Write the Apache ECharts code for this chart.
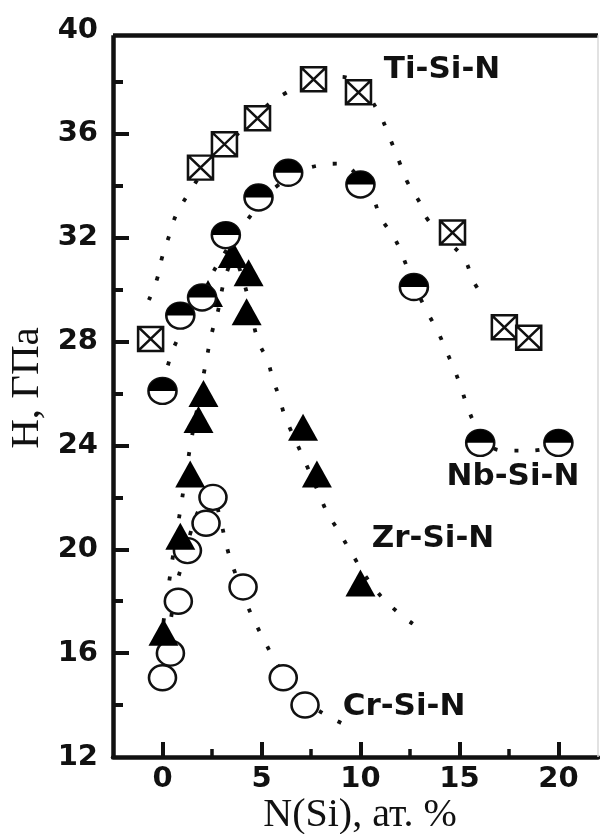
<!DOCTYPE html>
<html>
<head>
<meta charset="utf-8">
<script src="https://cdn.jsdelivr.net/npm/echarts@6/dist/echarts.min.js"></script>
<style>
  html, body { margin: 0; padding: 0; background: #fff; }
  #chart { width: 600px; height: 834px; }
</style>
</head>
<body>
<div id="chart"></div>
<script>
// Hardness H (GPa) versus silicon content N(Si) (at. %) for four nitride systems

// measured points, [N(Si), H]
const tiSiN = [[-0.6, 28.1], [1.92, 34.7], [3.13, 35.6], [4.8, 36.6], [7.63, 38.1], [9.9, 37.6], [14.65, 32.2], [17.27, 28.55], [18.5, 28.15]];
const nbSiN = [[0, 26.1], [0.9, 29.0], [2.0, 29.7], [3.2, 32.1], [4.85, 33.55], [6.35, 34.5], [10.0, 34.05], [12.7, 30.1], [16.05, 24.1], [20.0, 24.1]];
const zrSiN = [[0.05, 16.8], [0.9, 20.5], [1.4, 22.9], [1.82, 25.0], [2.07, 26.0], [2.3, 29.85], [3.55, 31.35], [4.35, 30.65], [4.25, 29.15], [7.1, 24.7], [7.8, 22.9], [10.0, 18.7]];
const crSiN = [[0, 15.05], [0.4, 16.0], [0.8, 18.0], [1.26, 19.95], [2.2, 21.0], [2.55, 22.0], [4.07, 18.55], [6.1, 15.05], [7.2, 14.0]];

// guide-to-the-eye trend curves
const tiTrend = [[-0.69, 29.6], [-0.3, 30.35], [0.0, 31.3], [0.35, 32.1], [0.7, 32.9], [1.28, 33.65], [2.4, 34.9], [3.8, 36.0], [5.0, 36.9], [6.06, 37.5], [7.5, 38.0], [9.0, 38.2], [10.2, 37.6], [11.0, 36.7], [11.4, 36.0], [12.0, 34.85], [12.4, 34.1], [13.0, 33.35], [13.4, 32.7], [14.4, 31.9], [15.3, 31.1], [15.65, 30.4], [16.1, 29.85]];
const nbTrend = [[0.0, 26.3], [0.4, 27.4], [0.8, 28.15], [1.6, 29.3], [2.5, 30.6], [3.3, 31.6], [4.1, 32.5], [5.8, 34.0], [8.0, 34.8], [8.85, 34.85], [10.6, 33.5], [11.0, 32.8], [11.7, 32.0], [12.1, 31.35], [12.7, 30.2], [13.4, 29.1], [13.9, 28.4], [14.3, 27.7], [14.7, 27.0], [15.05, 26.3], [15.4, 25.5], [15.8, 24.8], [16.5, 24.0], [17.5, 23.8], [18.6, 23.8], [19.5, 23.9]];
const zrTrend = [[0.05, 17.2], [0.5, 19.6], [0.96, 21.8], [1.41, 24.0], [1.8, 25.6], [2.12, 26.9], [2.5, 28.35], [2.78, 29.1], [3.18, 30.5], [3.6, 31.1], [4.1, 30.3], [4.5, 29.0], [4.85, 28.0], [5.3, 27.27], [5.6, 26.5], [5.9, 25.85], [6.2, 25.1], [7.07, 23.6], [7.9, 22.15], [8.33, 21.4], [8.9, 20.7], [9.44, 20.0], [10.5, 18.7], [11.6, 17.77], [12.7, 17.1]];
const crTrend = [[0.1, 15.8], [0.4, 17.2], [0.7, 18.6], [0.94, 19.3], [1.4, 20.6], [1.9, 21.6], [2.5, 22.1], [2.9, 21.2], [3.27, 20.03], [3.57, 19.3], [4.07, 18.3], [4.28, 17.85], [4.7, 17.15], [5.2, 16.4], [5.7, 15.7], [6.3, 15.0], [7.2, 14.2], [8.3, 13.6], [9.5, 13.15]];

// axes
const xMajorTicks = [0, 5, 10, 15, 20];
const xMinorTicks = [2.5, 7.5, 12.5, 17.5];
const yLabels = [12, 16, 20, 24, 28, 32, 36, 40];
const yMajorTicks = [16, 20, 24, 28, 32, 36];
const X_MIN = -2.5, X_MAX = 22, Y_MIN = 12, Y_MAX = 40;
const FRAME_TOP = 39.8;

const systemNames = ['Ti-Si-N', 'Nb-Si-N', 'Zr-Si-N', 'Cr-Si-N'];

const INK = '#111';
const tickFont = { fontFamily: '"DejaVu Sans"', fontWeight: 'bold', fontSize: 29, color: INK };

const trend = (data) => ({
  type: 'line', data, smooth: 0.45, showSymbol: false, silent: true, z: 1,
  lineStyle: { color: INK, width: 3.8, type: [4, 17], cap: 'butt' }
});

const crossedSquare = 'path://M1,1H23V23H1Z M1,1L23,23 M23,1L1,23';
const halfDiskTop = 'path://M0,10 C0,4.477 4.477,0 10,0 C15.523,0 20,4.477 20,10 Z';

const chart = echarts.init(document.getElementById('chart'), null, { renderer: 'canvas' });

chart.setOption({
  backgroundColor: '#fff',
  animation: false,
  grid: { left: 113, right: 2, top: 30, bottom: 77 },
  xAxis: [{
    type: 'value', min: X_MIN, max: X_MAX,
    axisLine: { show: true, onZero: false, lineStyle: { color: INK, width: 4.5 } },
    axisTick: { show: true, inside: true, length: 15, customValues: xMajorTicks, lineStyle: { color: INK, width: 4 } },
    axisLabel: { show: true, margin: 8, customValues: xMajorTicks, ...tickFont },
    splitLine: { show: false }
  }, {
    type: 'value', min: X_MIN, max: X_MAX, position: 'bottom',
    axisLine: { show: false, onZero: false },
    axisTick: { show: true, inside: true, length: 8, customValues: xMinorTicks, lineStyle: { color: INK, width: 3.5 } },
    axisLabel: { show: false },
    splitLine: { show: false }
  }],
  yAxis: {
    type: 'value', min: Y_MIN, max: Y_MAX, interval: 4, position: 'left',
    axisLine: { show: false, onZero: false },
    axisTick: { show: true, inside: true, length: 16, customValues: yMajorTicks, lineStyle: { color: INK, width: 4 } },
    minorTick: { show: true, splitNumber: 2, length: 10, lineStyle: { color: INK, width: 4 } },
    axisLabel: { show: true, margin: 15, customValues: yLabels, ...tickFont },
    splitLine: { show: false }
  },
  series: [
    Object.assign(trend(tiTrend), {
      markLine: {
        silent: true, symbol: 'none', label: { show: false },
        lineStyle: { color: INK, width: 4.5, type: 'solid' },
        data: [
          [{ coord: [X_MIN, Y_MIN] }, { coord: [X_MIN, FRAME_TOP] }],
          [{ coord: [X_MIN, FRAME_TOP] }, { coord: [X_MAX, FRAME_TOP] }],
          [{ coord: [X_MAX, Y_MIN], lineStyle: { color: '#d8d8d8', width: 1.5 } }, { coord: [X_MAX, FRAME_TOP] }]
        ]
      }
    }),
    trend(nbTrend),
    trend(zrTrend),
    trend(crTrend),
    {
      name: systemNames[3], type: 'scatter', data: crSiN, z: 2,
      symbol: 'circle', symbolSize: [27, 25],
      itemStyle: { color: '#fff', borderColor: INK, borderWidth: 2.5, opacity: 1 }
    },
    {
      name: systemNames[2], type: 'scatter', data: zrSiN, z: 3,
      symbol: 'triangle', symbolSize: [30, 27],
      itemStyle: { color: '#000', opacity: 1 }
    },
    {
      name: systemNames[1], type: 'scatter', data: nbSiN, z: 4,
      symbol: 'circle', symbolSize: [28, 26],
      itemStyle: { color: '#fff', borderColor: INK, borderWidth: 2.5, opacity: 1 }
    },
    {
      name: systemNames[1] + ' fill', type: 'scatter', data: nbSiN, z: 5,
      symbol: halfDiskTop, symbolSize: [28, 13], symbolOffset: [0, -6.5],
      itemStyle: { color: '#000', opacity: 1 }
    },
    {
      name: systemNames[0], type: 'scatter', data: tiSiN, z: 6,
      symbol: crossedSquare, symbolSize: [25, 24],
      itemStyle: { color: '#fff', borderColor: INK, borderWidth: 2.5, opacity: 1 }
    }
  ],
  graphic: [
    { type: 'text', x: 442, y: 70, z: 10, style: { text: systemNames[0], font: 'bold 31px "DejaVu Sans"', fill: INK, align: 'center', verticalAlign: 'middle' } },
    { type: 'text', x: 513, y: 477, z: 10, style: { text: systemNames[1], font: 'bold 31px "DejaVu Sans"', fill: INK, align: 'center', verticalAlign: 'middle' } },
    { type: 'text', x: 433, y: 539, z: 10, style: { text: systemNames[2], font: 'bold 31px "DejaVu Sans"', fill: INK, align: 'center', verticalAlign: 'middle' } },
    { type: 'text', x: 404, y: 707, z: 10, style: { text: systemNames[3], font: 'bold 31px "DejaVu Sans"', fill: INK, align: 'center', verticalAlign: 'middle' } },
    { type: 'text', x: 27, y: 388, rotation: Math.PI / 2, z: 10, style: { text: 'H, ГПа', font: '41px "Liberation Serif"', fill: INK, align: 'center', verticalAlign: 'middle' } },
    { type: 'text', x: 360, y: 815, z: 10, style: { text: 'N(Si), ат. %', font: '40px "Liberation Serif"', fill: INK, align: 'center', verticalAlign: 'middle' } }
  ]
});
</script>
</body>
</html>
